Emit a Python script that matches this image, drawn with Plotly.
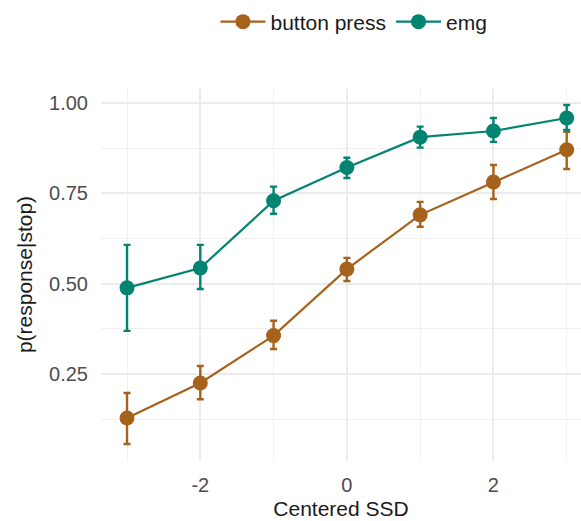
import plotly.graph_objects as go

# Centered stop-signal delay (SSD) levels
ssd = [-3, -2, -1, 0, 1, 2, 3]

# p(response|stop) with lower/upper error bounds, per response measure
button_mean = [0.128, 0.225, 0.356, 0.540, 0.690, 0.781, 0.870]
button_low = [0.056, 0.180, 0.319, 0.507, 0.657, 0.734, 0.817]
button_high = [0.197, 0.272, 0.397, 0.571, 0.726, 0.828, 0.920]

emg_mean = [0.488, 0.543, 0.729, 0.821, 0.905, 0.922, 0.958]
emg_low = [0.369, 0.485, 0.693, 0.792, 0.876, 0.892, 0.925]
emg_high = [0.607, 0.607, 0.768, 0.848, 0.934, 0.958, 0.994]

y_ticks = [0.25, 0.50, 0.75, 1.00]
y_tick_text = ["0.25", "0.50", "0.75", "1.00"]
x_ticks = [-2, 0, 2]
x_tick_text = ["-2", "0", "2"]

BROWN = "#A6611A"
TEAL = "#018571"


def series(name, mean, low, high, color):
    return go.Scatter(
        x=ssd,
        y=mean,
        name=name,
        mode="lines+markers",
        line=dict(color=color, width=2.2),
        marker=dict(color=color, size=15),
        error_y=dict(
            type="data",
            symmetric=False,
            array=[h - m for h, m in zip(high, mean)],
            arrayminus=[m - l for m, l in zip(mean, low)],
            color=color,
            thickness=2.4,
            width=3.5,
        ),
    )


fig = go.Figure()
fig.add_trace(series("button press", button_mean, button_low, button_high, BROWN))
fig.add_trace(series("emg", emg_mean, emg_low, emg_high, TEAL))

FONT = "Liberation Sans, Arial, sans-serif"

fig.update_layout(
    width=581,
    height=521,
    margin=dict(l=101, r=0, t=88, b=60),
    paper_bgcolor="white",
    plot_bgcolor="white",
    font=dict(family=FONT, size=20, color="#1a1a1a"),
    legend=dict(
        orientation="h",
        x=0.527,
        xanchor="center",
        y=1.177,
        yanchor="middle",
        font=dict(size=21, color="#1a1a1a"),
        itemwidth=45,
        bgcolor="rgba(0,0,0,0)",
    ),
    showlegend=True,
)

fig.update_xaxes(
    range=[-3.355, 3.195],
    tickmode="array",
    tickvals=x_ticks,
    ticktext=x_tick_text,
    tickfont=dict(size=20, color="#4D4D4D"),
    ticklabelstandoff=10,
    showline=False,
    zeroline=False,
    showgrid=True,
    gridcolor="#EBEBEB",
    gridwidth=1.6,
    minor=dict(dtick=1, tick0=-3, showgrid=True, gridcolor="#F0F0F0", gridwidth=1.3),
    title=dict(text="Centered SSD", font=dict(size=21, color="#1a1a1a"), standoff=6),
)

fig.update_yaxes(
    range=[0.009, 1.041],
    tickmode="array",
    tickvals=y_ticks,
    ticktext=y_tick_text,
    tickfont=dict(size=20, color="#4D4D4D"),
    ticklabelstandoff=12,
    showline=False,
    zeroline=False,
    showgrid=True,
    gridcolor="#EBEBEB",
    gridwidth=1.6,
    minor=dict(dtick=0.125, tick0=0.125, showgrid=True, gridcolor="#F0F0F0", gridwidth=1.3),
    title=dict(text="p(response|stop)", font=dict(size=21, color="#1a1a1a"), standoff=10),
)

fig.write_html("out.html")
